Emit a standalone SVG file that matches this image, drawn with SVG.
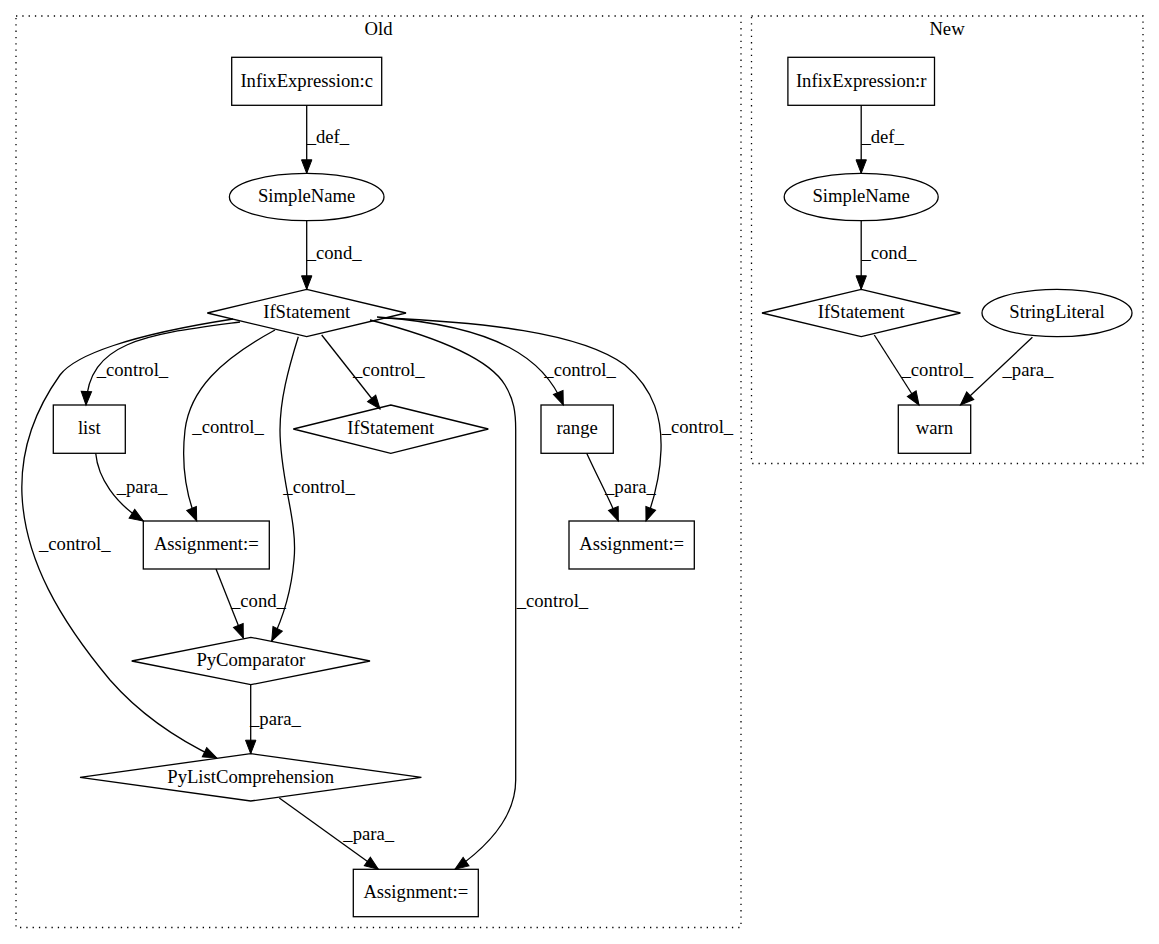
<svg xmlns="http://www.w3.org/2000/svg" width="1159" height="944" viewBox="0 0 1159 944">
<style>
text{font-family:"Liberation Serif","Times New Roman",serif;font-size:18.67px;fill:#000}
.n{text-anchor:middle}
.shape{fill:none;stroke:#000;stroke-width:1.3}
.cl{fill:none;stroke:#000;stroke-width:1.3;stroke-dasharray:1.3,5}
.e{fill:none;stroke:#000;stroke-width:1.3;marker-end:url(#ah)}
</style>
<defs>
<marker id="ah" markerUnits="userSpaceOnUse" markerWidth="16" markerHeight="12" refX="13.5" refY="5.2" orient="auto" overflow="visible">
<path d="M0,0 L13.5,5.2 L0,10.4 z" fill="#000" stroke="#000" stroke-width="1"/>
</marker>
</defs>
<rect width="1159" height="944" fill="#fff"/>
<g id="cluster_old">
<rect class="cl" x="16" y="16" width="725" height="911.5"/>
<text class="n" x="378.5" y="35">Old</text>
</g>
<g id="cluster_new">
<rect class="cl" x="751.5" y="16" width="391.5" height="447.5"/>
<text class="n" x="947" y="35">New</text>
</g>
<g id="connectors">
<path class="e" d="M306.7,105.3 L306.7,173.3"/>
<path class="e" d="M306.7,220.7 L306.7,289.3"/>
<path class="e" d="M240,322 C150,334 88,340 86,405"/>
<path class="e" d="M233,319 C130,335 75,355 60,375 C35,410 20,450 22,495 C25,560 60,620 110,680 C145,720 185,743 216.7,758"/>
<path class="e" d="M275,330 C220,360 190,390 185,430 C181,465 186,495 196.7,521"/>
<path class="e" d="M298.3,336.7 C288,370 280,400 280,430 C280,480 298,520 294,560 C291,595 282,620 271.7,641"/>
<path class="e" d="M321.7,335 L380,409"/>
<path class="e" d="M370,320 C440,338 490,360 505,385 C514,400 515.7,412 515.7,430 L515.7,780 C515.7,815 490,845 455,869.3"/>
<path class="e" d="M377,317 C500,326 545,360 563.3,405"/>
<path class="e" d="M383,318 C480,322 580,332 625,365 C655,390 662,420 661,450 C660,480 652,505 646,521"/>
<path class="e" d="M95.7,453.3 C98,478 115,503 143.3,521"/>
<path class="e" d="M586.7,453.3 C598,478 610,500 618.3,521"/>
<path class="e" d="M216,569 L243.3,638"/>
<path class="e" d="M250.7,684.7 L250.7,753.7"/>
<path class="e" d="M279.3,798 L378.3,869.3"/>
<path class="e" d="M861.2,105.3 L861.2,173.3"/>
<path class="e" d="M861.2,220.7 L861.2,289.3"/>
<path class="e" d="M874.3,335 L919,405"/>
<path class="e" d="M1032.4,337.3 L960.4,405"/>
<text x="306.7" y="143.3">_def_</text>
<text x="306.7" y="259.3">_cond_</text>
<text x="96.7" y="376">_control_</text>
<text x="353" y="376">_control_</text>
<text x="544.3" y="376">_control_</text>
<text x="192.3" y="433">_control_</text>
<text x="661.7" y="433">_control_</text>
<text x="116.7" y="492.7">_para_</text>
<text x="283.3" y="492.7">_control_</text>
<text x="605" y="492.7">_para_</text>
<text x="39" y="550">_control_</text>
<text x="231" y="607.3">_cond_</text>
<text x="516.7" y="607.3">_control_</text>
<text x="250" y="725">_para_</text>
<text x="343.3" y="840">_para_</text>
<text x="861.4" y="143.3">_def_</text>
<text x="861.4" y="259.3">_cond_</text>
<text x="901.5" y="376.3">_control_</text>
<text x="1002.5" y="376.3">_para_</text>
</g>
<g id="old_infix">
<rect class="shape" x="231.7" y="57.3" width="150" height="48"/>
<text class="n" x="306.7" y="86.5">InfixExpression:c</text>
</g>
<g id="old_simplename">
<ellipse class="shape" cx="306.7" cy="197" rx="77.3" ry="23.7"/>
<text class="n" x="306.7" y="202.2">SimpleName</text>
</g>
<g id="old_if">
<polygon class="shape" points="306.7,289.3 406,313 306.7,336.7 207.3,313"/>
<text class="n" x="306.7" y="318.2">IfStatement</text>
</g>
<g id="old_list">
<rect class="shape" x="53.3" y="405" width="72" height="48.3"/>
<text class="n" x="89.3" y="434.2">list</text>
</g>
<g id="old_if2">
<polygon class="shape" points="390.8,405 488.3,429 390.8,453.3 293.3,429"/>
<text class="n" x="390.8" y="434.2">IfStatement</text>
</g>
<g id="old_range">
<rect class="shape" x="541" y="405" width="72.3" height="48.3"/>
<text class="n" x="577.1" y="434.2">range</text>
</g>
<g id="old_assign1">
<rect class="shape" x="143.3" y="521" width="126" height="48"/>
<text class="n" x="206.3" y="550.2">Assignment:=</text>
</g>
<g id="old_assign2">
<rect class="shape" x="569" y="521" width="125.3" height="48"/>
<text class="n" x="631.7" y="550.2">Assignment:=</text>
</g>
<g id="old_pycomp">
<polygon class="shape" points="250.8,637.3 370,661 250.8,684.7 131.7,661"/>
<text class="n" x="250.8" y="666.2">PyComparator</text>
</g>
<g id="old_pylist">
<polygon class="shape" points="250.7,753.7 421.4,777.3 250.7,801 80,777.3"/>
<text class="n" x="250.7" y="782.5">PyListComprehension</text>
</g>
<g id="old_assign3">
<rect class="shape" x="353.3" y="869.3" width="125" height="47.4"/>
<text class="n" x="415.8" y="898.2">Assignment:=</text>
</g>
<g id="new_infix">
<rect class="shape" x="787.9" y="57.3" width="146.6" height="48"/>
<text class="n" x="861.2" y="86.5">InfixExpression:r</text>
</g>
<g id="new_simplename">
<ellipse class="shape" cx="861.2" cy="197" rx="77" ry="23.7"/>
<text class="n" x="861.2" y="202.2">SimpleName</text>
</g>
<g id="new_if">
<polygon class="shape" points="861.2,289.3 960.4,313 861.2,336.7 762,313"/>
<text class="n" x="861.2" y="318.2">IfStatement</text>
</g>
<g id="new_stringliteral">
<ellipse class="shape" cx="1057" cy="313" rx="75" ry="23.7"/>
<text class="n" x="1057" y="318.2">StringLiteral</text>
</g>
<g id="new_warn">
<rect class="shape" x="898.3" y="405" width="72.4" height="48.3"/>
<text class="n" x="934.5" y="434.2">warn</text>
</g>
</svg>
